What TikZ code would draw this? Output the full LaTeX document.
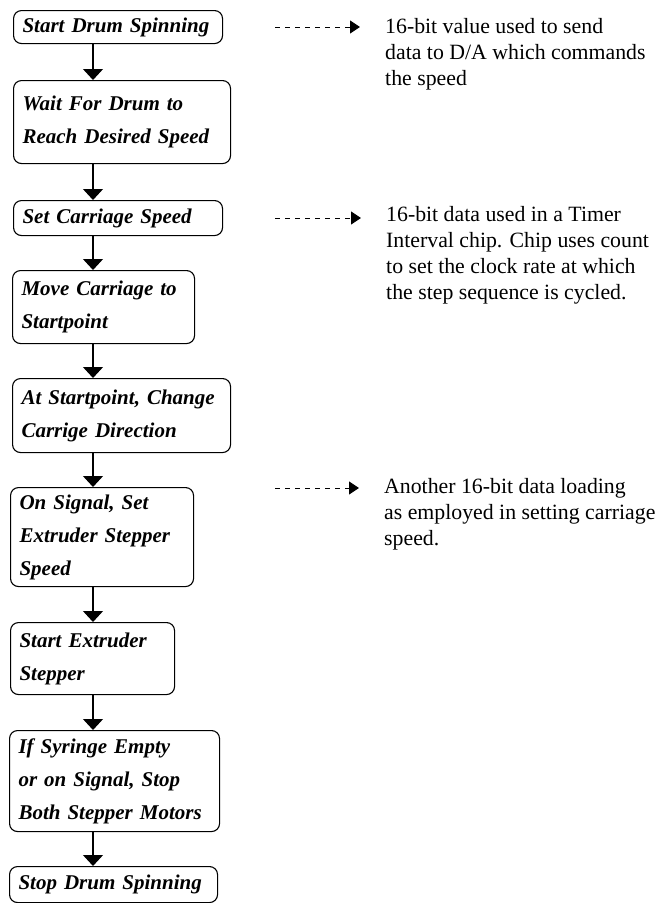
\documentclass[tikz,border=0pt]{standalone}
\usepackage{fontspec}
\setmainfont{Liberation Serif}
\usetikzlibrary{arrows.meta, positioning}
\hyphenpenalty=10000
\exhyphenpenalty=10000

\begin{document}
\begin{tikzpicture}[x=1pt, y=-1pt,
    box/.style={draw, line width=1.1pt, rounded corners=8pt, anchor=north west, align=left,
        inner xsep=9pt, inner ysep=0pt, font=\bfseries\itshape\fontsize{21}{33}\selectfont},
    note/.style={anchor=north west, align=left, inner sep=0pt, font=\fontsize{21.8}{26}\selectfont},
    flow/.style={line width=1.1pt, -{Triangle[width=20pt, length=11pt]}},
    hint/.style={line width=0.9pt, dash pattern=on 5pt off 5pt, -{Triangle[width=13pt, length=10pt]}, shorten >=25pt}]
    \useasboundingbox (0,0) rectangle (657,903);
    %Flow chart boxes
    \node[box, text width=191pt, minimum height=33pt] (b1) at (13,10) {Start Drum Spinning};
    \node[box, text width=199pt, minimum height=83pt] (b2) at (13,80) {Wait For Drum to\\Reach Desired Speed};
    \node[box, text width=191pt, minimum height=35pt] (b3) at (13,200) {Set Carriage Speed};
    \node[box, text width=164pt, minimum height=73pt] (b4) at (12,270) {Move Carriage to\\Startpoint};
    \node[box, text width=200pt, minimum height=74pt] (b5) at (12,378) {At Startpoint, Change\\Carrige Direction};
    \node[box, text width=165pt, minimum height=99pt] (b6) at (10,487) {On Signal, Set\\Extruder Stepper\\Speed};
    \node[box, text width=146pt, minimum height=72pt] (b7) at (10,622) {Start Extruder\\Stepper};
    \node[box, text width=192pt, minimum height=101pt] (b8) at (9,730) {If Syringe Empty\\or on Signal, Stop\\Both Stepper Motors};
    \node[box, text width=190pt, minimum height=36pt] (b9) at (9,866) {Stop Drum Spinning};
    \coordinate (spine) at (93,0);
    \foreach \a/\b in {b1/b2, b2/b3, b3/b4, b4/b5, b5/b6, b6/b7, b7/b8, b8/b9}
        \draw[flow] (\a.south -| spine) -- (\b.north -| spine);
    %Side notes
    \node[note] (n1) at (385,18) {16-bit value used to send\\data to D/A which commands\\the speed};
    \node[note] (n2) at (386,206) {16-bit data used in a Timer\\Interval chip. Chip uses count\\to set the clock rate at which\\the step sequence is cycled.};
    \node[note] (n3) at (384,478) {Another 16-bit data loading\\as employed in setting carriage\\speed.};
    \coordinate (h1) at (275,27);
    \coordinate (h2) at (275,218);
    \coordinate (h3) at (275,488);
    \foreach \i in {1,2,3}
        \draw[hint] (h\i) -- (h\i -| n\i.west);
\end{tikzpicture}
\end{document}
